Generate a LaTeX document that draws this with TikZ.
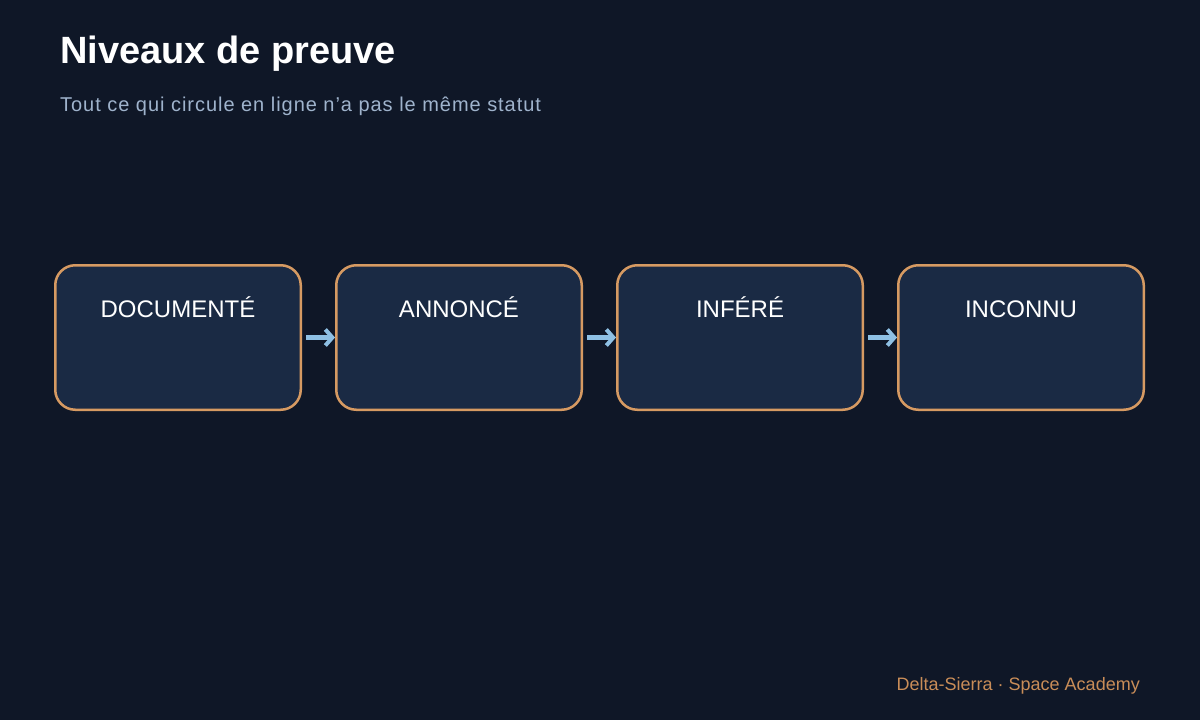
\documentclass[tikz,border=0pt]{standalone}
\usepackage{fontspec}
\setmainfont{Liberation Sans}
\newfontfamily\subfont[LetterSpace=4.8]{Liberation Sans}
\usepackage{tikz}
\usetikzlibrary{positioning,arrows.meta}
\definecolor{bgdark}{HTML}{0F1727}
\definecolor{boxfill}{HTML}{1A2A44}
\definecolor{boxedge}{HTML}{D69A62}
\definecolor{arrowblue}{HTML}{8EC0E4}
\definecolor{subgrey}{HTML}{9FB3CC}
\definecolor{footorange}{HTML}{C98D58}
\tikzstyle{level} = [rectangle, draw=boxedge, fill=boxfill, line width=2.5pt,
    rounded corners=20pt, minimum width=245.5pt, minimum height=144.5pt]
\tikzstyle{levtext} = [anchor=base, text=white, font=\fontsize{24}{28}\selectfont, yshift=-53pt]
\tikzstyle{line} = [draw=arrowblue, line width=4.5pt,
    -{Straight Barb[length=7pt, width=16pt, line width=4pt]}, shorten <=4pt]

\begin{document}
\begin{tikzpicture}
    % background and frame
    \fill [bgdark] (0,0) rectangle (1200pt,-720pt);
    \useasboundingbox (0,0) rectangle (1200pt,-720pt);
    % titles
    \node [anchor=base west, inner sep=0pt, text=white, font=\fontsize{38}{42}\selectfont\bfseries]
        (title) at (60pt,-63.5pt) {Niveaux de preuve};
    \node [anchor=base west, inner sep=0pt, text=subgrey, font=\fontsize{20}{24}\subfont]
        (subtitle) at (60pt,-111.5pt) {Tout ce qui circule en ligne n’a pas le même statut};
    % Place nodes
    \node [level, label={[levtext]north:DOCUMENTÉ}] (doc) at (178pt,-337.5pt) {};
    \node [level, right=33pt of doc, label={[levtext]north:ANNONCÉ}] (ann) {};
    \node [level, right=33pt of ann, label={[levtext]north:INFÉRÉ}] (inf) {};
    \node [level, right=33pt of inf, label={[levtext]north:INCONNU}] (inc) {};
    \path [line] (doc) -- (ann);
    \path [line] (ann) -- (inf);
    \path [line] (inf) -- (inc);
    % footer
    \node [anchor=base east, inner sep=0pt, text=footorange, font=\fontsize{18}{22}\selectfont]
        (footer) at (1140pt,-690pt) {Delta-Sierra · Space Academy};
\end{tikzpicture}
\end{document}
